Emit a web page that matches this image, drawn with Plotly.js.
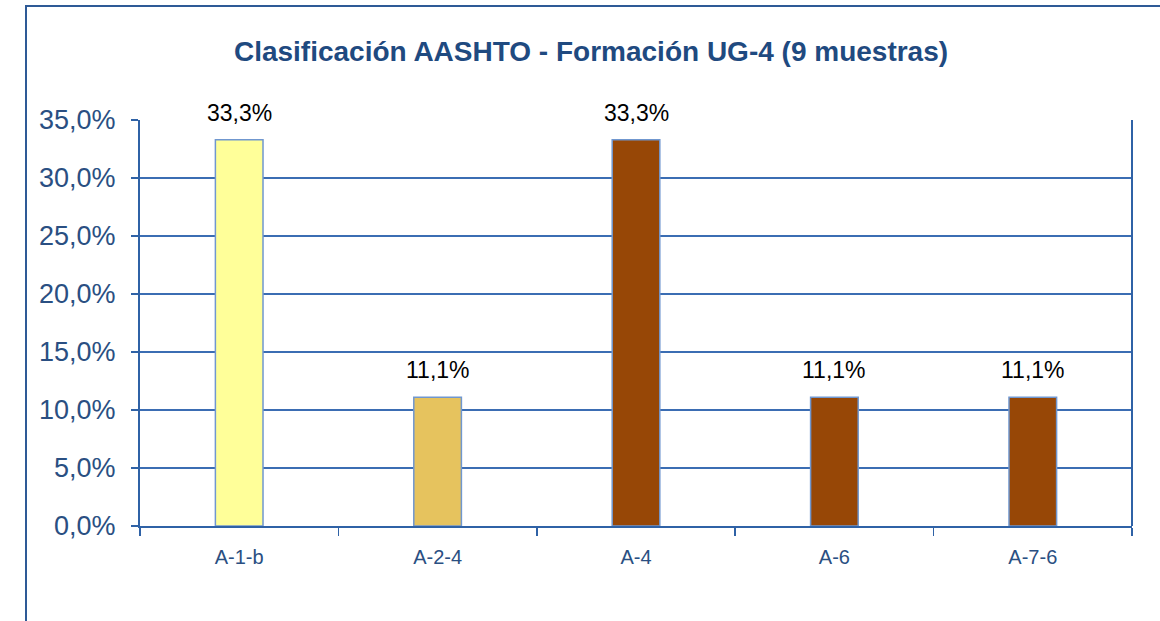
<!DOCTYPE html>
<html>
<head>
<meta charset="utf-8">
<script src="https://cdn.plot.ly/plotly-3.0.1.min.js"></script>
<style>html,body{margin:0;padding:0;background:#fff;}#chart{width:1160px;height:621px;}</style>
</head>
<body>
<div id="chart"></div>
<script>
const categories = ["A-1-b", "A-2-4", "A-4", "A-6", "A-7-6"];
const percentages = [33.3, 11.1, 33.3, 11.1, 11.1];
const labels = ["33,3%", "11,1%", "33,3%", "11,1%", "11,1%"];
const barColors = ["#FFFF99", "#E6C35E", "#974706", "#974706", "#974706"];
const yTickVals = [0, 5, 10, 15, 20, 25, 30, 35];
const yTickText = ["0,0%", "5,0%", "10,0%", "15,0%", "20,0%", "25,0%", "30,0%", "35,0%"];

const blue = "#2F62A6";
const textBlue = "#2A4F82";

const trace = {
  type: "bar",
  x: categories,
  y: percentages,
  marker: { color: barColors, line: { color: "#7097CF", width: 1.5 } },
  hoverinfo: "skip"
};

const annotations = categories.map((c, i) => ({
  x: c, y: percentages[i], xref: "x", yref: "y",
  text: labels[i], showarrow: false, yanchor: "bottom", yshift: 12,
  font: { family: "Liberation Sans, Arial, sans-serif", size: 23, color: "#000" }
}));

const layout = {
  width: 1160, height: 621,
  margin: { l: 140, r: 28, t: 120, b: 95 },
  paper_bgcolor: "#fff", plot_bgcolor: "#fff",
  showlegend: false,
  bargap: 0.76,
  title: {
    text: "<b>Clasificación AASHTO - Formación UG-4 (9 muestras)</b>",
    x: 591 / 1160, xref: "container", xanchor: "center",
    y: 1 - 51 / 621, yref: "container", yanchor: "middle",
    font: { family: "Liberation Sans, Arial, sans-serif", size: 28, color: "#1F4A80" }
  },
  xaxis: {
    type: "category",
    showgrid: false,
    showline: true, linecolor: blue, linewidth: 2,
    ticks: "outside", tickson: "boundaries", ticklen: 8, tickcolor: blue, tickwidth: 1.5,
    tickfont: { family: "Liberation Sans, Arial, sans-serif", size: 20, color: textBlue },
    ticklabelstandoff: 12,
    zeroline: false
  },
  yaxis: {
    range: [0, 35],
    tickvals: yTickVals, ticktext: yTickText,
    showgrid: true, gridcolor: "#3B6DB3", gridwidth: 1.5,
    showline: true, linecolor: blue, linewidth: 2,
    ticks: "outside", ticklen: 7, tickcolor: blue, tickwidth: 1.5,
    tickfont: { family: "Liberation Sans, Arial, sans-serif", size: 27, color: textBlue },
    ticklabelstandoff: 10,
    zeroline: false
  },
  annotations: annotations,
  shapes: [
    { type: "rect", xref: "paper", yref: "paper",
      x0: (26 - 140) / 992, x1: (1175 - 140) / 992,
      y0: (526 - 640) / 406, y1: (526 - 6) / 406,
      line: { color: "#2E5A96", width: 2 }, fillcolor: "rgba(0,0,0,0)", layer: "below" },
    { type: "line", xref: "paper", yref: "paper", x0: 1, x1: 1, y0: 0, y1: 1,
      line: { color: blue, width: 2 } }
  ]
};

Plotly.newPlot("chart", [trace], layout, { displayModeBar: false, staticPlot: true });
</script>
</body>
</html>
